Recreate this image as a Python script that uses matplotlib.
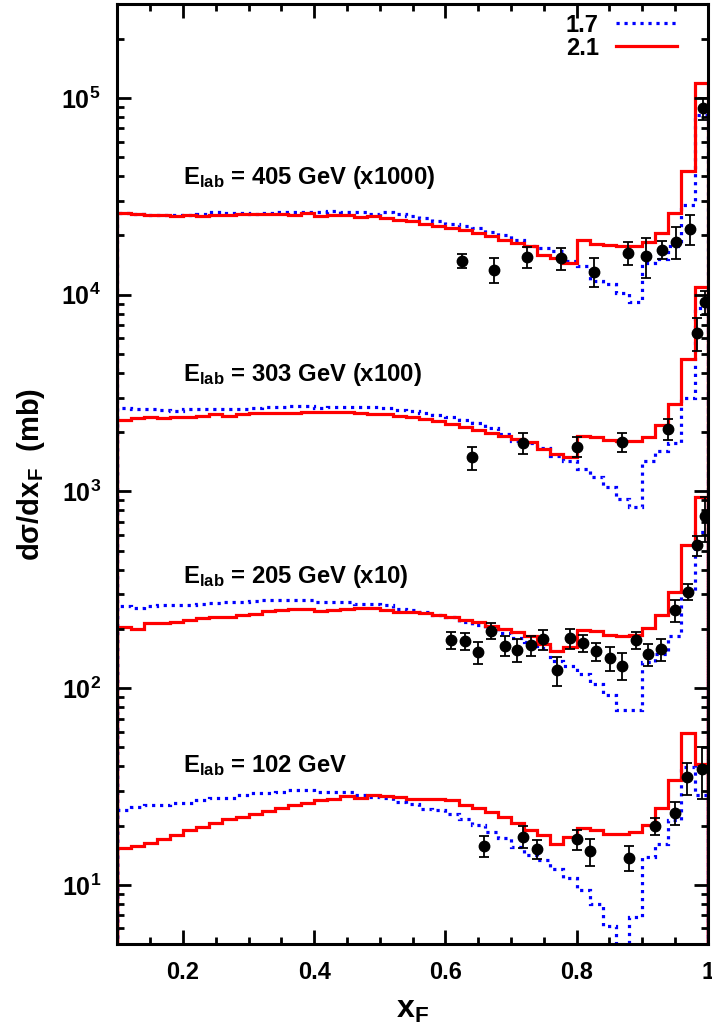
import numpy as np
import matplotlib.pyplot as plt
from matplotlib.ticker import MultipleLocator, LogLocator, NullFormatter
from matplotlib.lines import Line2D

plt.rcParams['font.family'] = 'Liberation Sans'
plt.rcParams['font.weight'] = 'bold'
plt.rcParams['axes.labelweight'] = 'bold'
plt.rcParams['mathtext.fontset'] = 'custom'
plt.rcParams['mathtext.rm'] = 'Liberation Sans:bold'
plt.rcParams['mathtext.it'] = 'Liberation Sans:bold'
plt.rcParams['mathtext.bf'] = 'Liberation Sans:bold'
plt.rcParams['mathtext.sf'] = 'Liberation Sans:bold'

# histogram bins in x_F (width 0.02 from 0.10 to 1.00)
bin_edges = np.round(np.linspace(0.10, 1.00, 46), 2)

# model curves, parameter 1.7 (blue dotted) and 2.1 (red solid)
fit17_405 = [26100, 25800, 25500, 25500, 25300, 25500, 25700, 26200, 26000, 25900,
             25800, 26000, 26400, 26400, 26200, 26300, 26500, 26400, 26300, 25700,
             26400, 25600, 25000, 24600, 23800, 23000, 22400, 21700, 20800, 20000,
             19000, 17700, 17300, 16700, 14900, 14000, 11800, 11300, 10200, 9200,
             14500, 15200, 17700, 28700, 82200]
fit21_405 = [26100, 25800, 25300, 25300, 25100, 25300, 25200, 25500, 25500, 25600,
             25600, 25700, 25700, 25300, 25900, 25100, 25300, 25500, 24700, 25100,
             24500, 24100, 23700, 22900, 22400, 21900, 21200, 20500, 19800, 18900,
             18400, 17700, 16000, 15400, 14500, 18900, 18100, 17900, 17700, 17700,
             18500, 20600, 26100, 42400, 119000]

fit17_303 = [2650, 2620, 2620, 2600, 2570, 2620, 2620, 2620, 2620, 2620,
             2640, 2670, 2670, 2720, 2720, 2640, 2700, 2700, 2680, 2670,
             2660, 2580, 2560, 2490, 2440, 2380, 2300, 2230, 2100, 1950,
             1800, 1760, 1670, 1520, 1430, 1300, 1180, 1050, 910, 830,
             1430, 1610, 1770, 3000, 8600]
fit21_303 = [2300, 2350, 2380, 2350, 2380, 2400, 2420, 2460, 2420, 2460,
             2490, 2490, 2490, 2490, 2520, 2540, 2540, 2520, 2490, 2470,
             2470, 2420, 2380, 2330, 2270, 2200, 2130, 2050, 1990, 1920,
             1840, 1780, 1640, 1550, 1500, 1920, 1880, 1820, 1810, 1810,
             1900, 2170, 2770, 4700, 10900]

fit17_205 = [260, 256, 260, 263, 266, 266, 268, 270, 273, 273,
             277, 281, 281, 281, 279, 273, 273, 273, 268, 268,
             263, 253, 250, 245, 236, 229, 216, 210, 202, 190,
             180, 171, 160, 138, 129, 118, 105, 92, 77, 77,
             136, 149, 185, 313, 620]
fit21_205 = [204, 200, 214, 214, 218, 221, 228, 231, 229, 236,
             238, 248, 250, 253, 253, 248, 250, 253, 256, 255,
             250, 243, 245, 240, 236, 229, 222, 216, 208, 200,
             192, 185, 168, 155, 162, 198, 195, 187, 185, 187,
             202, 234, 307, 532, 933]

fit17_102 = [23.9, 24.9, 25.4, 25.4, 26.1, 26.1, 26.9, 27.7, 27.7, 28.5,
             29.3, 29.3, 29.7, 30.5, 30.5, 29.5, 29.5, 29.5, 28.5, 28.0,
             27.5, 26.4, 25.9, 24.2, 23.9, 23.0, 21.7, 20.1, 18.6, 17.2,
             15.6, 14.2, 13.3, 12.1, 10.8, 9.4, 8.0, 6.2, 4.8, 6.9,
             13.9, 16.2, 21.3, 39.7, 28.5]
fit21_102 = [15.3, 15.7, 16.3, 17.0, 18.0, 18.9, 19.7, 20.5, 21.5, 22.1,
             22.9, 23.8, 24.6, 25.6, 26.2, 26.9, 27.4, 28.2, 27.7, 28.5,
             28.2, 28.0, 27.4, 27.4, 27.4, 26.9, 25.4, 24.7, 23.5, 22.1,
             20.6, 19.1, 17.9, 16.2, 17.4, 19.5, 19.1, 18.1, 18.2, 18.5,
             20.1, 24.7, 34.3, 59.1, 41.3]

# measured points
x_405 = [0.626, 0.674, 0.725, 0.777, 0.827, 0.878, 0.906, 0.931, 0.952, 0.973, 0.993]
y_405 = [14900, 13400, 15500, 15300, 13100, 16300, 15700, 16900, 18600, 21600, 88700]
e_405 = [1200, 2000, 1900, 2000, 2200, 2200, 3600, 1800, 3500, 3700, 11000]

x_303 = [0.640, 0.718, 0.800, 0.870, 0.939, 0.983, 0.996]
y_303 = [1490, 1760, 1690, 1780, 2070, 6370, 9140]
e_303 = [200, 220, 200, 190, 250, 1200, 1250]

x_205 = [0.609, 0.630, 0.649, 0.669, 0.691, 0.709, 0.730, 0.749, 0.770, 0.790, 0.810,
         0.830, 0.851, 0.870, 0.890, 0.909, 0.929, 0.950, 0.970, 0.983, 0.996]
y_205 = [175, 174, 152, 195, 164, 157, 165, 177, 123, 179, 170,
         154, 142, 130, 175, 149, 158, 249, 308, 532, 746]
e_205 = [17, 17, 20, 18, 19, 21, 20, 20, 21, 21, 17,
         16, 20, 20, 17, 19, 20, 31, 29, 62, 190]

x_102 = [0.659, 0.719, 0.740, 0.800, 0.820, 0.880, 0.920, 0.950, 0.969, 0.991]
y_102 = [15.8, 17.6, 15.2, 17.1, 14.8, 13.7, 19.9, 23.3, 35.2, 38.7]
e_102 = [2.0, 2.3, 1.7, 2.0, 2.3, 2.0, 2.0, 3.1, 6.5, 11.3]

fig = plt.figure(figsize=(7.12, 10.25), dpi=100)
ax = fig.add_axes([0.165, 0.079, 0.829, 0.917])

sets = [(fit17_405, fit21_405, x_405, y_405, e_405),
        (fit17_303, fit21_303, x_303, y_303, e_303),
        (fit17_205, fit21_205, x_205, y_205, e_205),
        (fit17_102, fit21_102, x_102, y_102, e_102)]

for f17, f21, xs, ys, es in sets:
    ax.stairs(f17, bin_edges, color='#0000ff', lw=2.3, ls=(0, (1, 1.5)))
    ax.stairs(f21, bin_edges, color='#ff0000', lw=2.3)
    ax.errorbar(xs, ys, yerr=es, fmt='o', color='black', ms=7.5,
                capsize=3.5, elinewidth=1.3, capthick=1.3, zorder=5)

ax.set_yscale('log')
ax.set_xlim(0.1, 1.0)
ax.set_ylim(5, 3e5)

label_kw = dict(fontsize=17.2, ha='left', va='baseline')
ax.text(0.2, 36600, r'$\mathregular{E_{lab}}$ = 405 GeV (x1000)', **label_kw)
ax.text(0.2, 3660, r'$\mathregular{E_{lab}}$ = 303 GeV (x100)', **label_kw)
ax.text(0.2, 344, r'$\mathregular{E_{lab}}$ = 205 GeV (x10)', **label_kw)
ax.text(0.2, 37.2, r'$\mathregular{E_{lab}}$ = 102 GeV', **label_kw)

ax.set_xticks([0.2, 0.4, 0.6, 0.8, 1.0])
ax.set_xticklabels(['0.2', '0.4', '0.6', '0.8', '1'])
ax.xaxis.set_minor_locator(MultipleLocator(0.05))
ax.set_yticks([1e1, 1e2, 1e3, 1e4, 1e5])
ax.set_yticklabels([r'$\mathregular{10^{1}}$', r'$\mathregular{10^{2}}$',
                    r'$\mathregular{10^{3}}$', r'$\mathregular{10^{4}}$',
                    r'$\mathregular{10^{5}}$'])
ax.yaxis.set_minor_locator(LogLocator(base=10, subs=np.arange(2, 10)))
ax.yaxis.set_minor_formatter(NullFormatter())
ax.tick_params(which='both', direction='in', top=True, right=True, width=2)
ax.tick_params(which='major', length=10)
ax.tick_params(which='minor', length=5)
ax.tick_params(axis='x', labelsize=17, pad=12)
ax.tick_params(axis='y', labelsize=18, pad=12)
for sp in ax.spines.values():
    sp.set_linewidth(2.2)

ax.set_xlabel(r'$\mathregular{x_F}$', fontsize=23, labelpad=8)
ax.set_ylabel(r'$\mathregular{d\sigma/dx_F}$  (mb)', fontsize=21, labelpad=10)

handles = [Line2D([], [], color='#0000ff', lw=2.3, ls=(0, (1, 1.5))),
           Line2D([], [], color='#ff0000', lw=2.3)]
ax.legend(handles, ['1.7', '2.1'], loc='upper right', bbox_to_anchor=(0.964, 1.0),
          frameon=False, markerfirst=False, fontsize=17, handlelength=2.6,
          labelspacing=0.0, handletextpad=0.72, borderaxespad=0.0)

fig.savefig('out.png', dpi=100)
